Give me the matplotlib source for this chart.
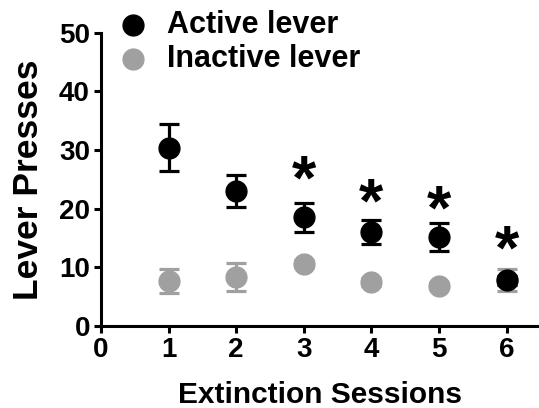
import numpy as np
import matplotlib.pyplot as plt

plt.rcParams['font.family'] = ['Liberation Sans', 'DejaVu Sans']
plt.rcParams['font.weight'] = 'bold'

sessions = [1, 2, 3, 4, 5, 6]
active_mean = [30.4, 23.0, 18.5, 16.0, 15.2, 7.8]
active_sem = [4.0, 2.8, 2.4, 2.0, 2.4, 0.8]
inactive_mean = [7.7, 8.4, 10.6, 7.5, 6.9, 7.8]
inactive_sem = [2.0, 2.4, 0.6, 0.6, 0.6, 1.9]
star_sessions = [3, 4, 5, 6]
star_y = [26.8, 22.8, 21.6, 14.8]

black = 'black'
grey = '#a0a0a0'

fig = plt.figure(figsize=(5.39, 4.08), dpi=100)
ax = fig.add_axes([0.1874, 0.201, 0.8126, 0.719])

# inactive first so the active markers sit on top
ax.errorbar(sessions, inactive_mean, yerr=inactive_sem, fmt='o', color=grey,
            ms=15, elinewidth=2.3, capsize=7.5, capthick=2.3, zorder=2)
ax.errorbar(sessions, active_mean, yerr=active_sem, fmt='o', color=black,
            ms=15, elinewidth=2.3, capsize=7.5, capthick=2.3, zorder=3)

# significance stars (text glyph sits a bit high, so shift down)
for s, y in zip(star_sessions, star_y):
    ax.text(s, y - 2.2, '*', ha='center', va='center', fontsize=45, fontweight='bold')

# legend drawn by hand like the original
ax.plot([0.48], [51.3], 'o', color=black, ms=15, clip_on=False)
ax.plot([0.48], [45.5], 'o', color=grey, ms=15, clip_on=False)
ax.text(0.98, 51.3, 'Active lever', va='center', fontsize=22, fontweight='bold')
ax.text(0.98, 45.5, 'Inactive lever', va='center', fontsize=22, fontweight='bold')

ax.set_xlim(0, 6.48)
ax.set_ylim(0, 50)
ax.set_xticks(range(0, 7))
ax.set_yticks(range(0, 51, 10))

for side in ['top', 'right']:
    ax.spines[side].set_visible(False)
for side in ['left', 'bottom']:
    ax.spines[side].set_linewidth(2.2)

ax.tick_params(direction='out', length=5, width=2.2, labelsize=20, pad=3)
for lbl in ax.get_xticklabels() + ax.get_yticklabels():
    lbl.set_fontweight('bold')

ax.set_xlabel('Extinction Sessions', fontsize=21.5, fontweight='bold', labelpad=13)
ax.set_ylabel('Lever Presses', fontsize=25.5, fontweight='bold', labelpad=10)

fig.savefig('out.png', dpi=100)
